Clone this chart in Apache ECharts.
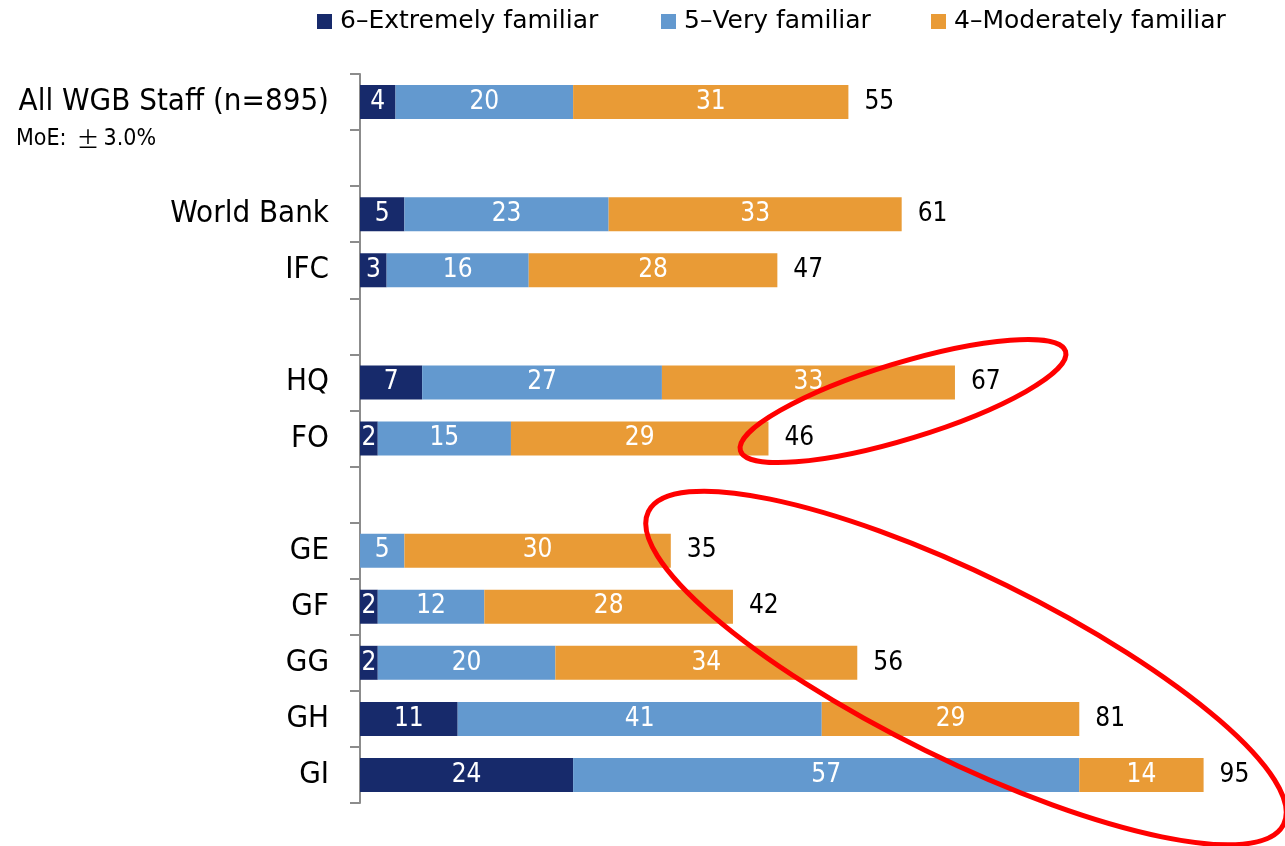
<!DOCTYPE html>
<html><head><meta charset="utf-8">
<script src="https://cdn.jsdelivr.net/npm/echarts@6/dist/echarts.min.js"></script>
<style>html,body{margin:0;padding:0;background:#fff}#c{width:1285px;height:846px}</style>
</head><body><div id="c"></div>
<script>
const categories = ['All WGB Staff (n=895)', '', 'World Bank', 'IFC', '', 'HQ', 'FO', '', 'GE', 'GF', 'GG', 'GH', 'GI'];
const extremely = [4, null, 5, 3, null, 7, 2, null, 0, 2, 2, 11, 24];
const very = [20, null, 23, 16, null, 27, 15, null, 5, 12, 20, 41, 57];
const moderately = [31, null, 33, 28, null, 33, 29, null, 30, 28, 34, 29, 14];
const totals = [55, null, 61, 47, null, 67, 46, null, 35, 42, 56, 81, 95];
const seriesNames = ['6\u2013Extremely familiar', '5\u2013Very familiar', '4\u2013Moderately familiar'];
const moeLabel = 'MoE:';
const moeSign = '\u00b1';
const moeValue = '3.0%';

const COND = '"DejaVu Sans Condensed", "DejaVu Sans", sans-serif';
const REG = '"DejaVu Sans", sans-serif';
const colors = ['#172a6b', '#6399cf', '#e99b36'];
const chart = echarts.init(document.getElementById('c'), null, {renderer: 'canvas'});

function seg(name, data, color) {
  return {
    name: name, type: 'bar', stack: 'total', data: data, barWidth: 34, barGap: '-100%',
    itemStyle: {color: color},
    label: {show: true, position: 'inside', color: '#fff', fontSize: 26, fontFamily: COND,
      formatter: p => (p.value ? p.value : '')},
    z: 3
  };
}

const legendLefts = [317, 661, 931];
chart.setOption({
  animation: false,
  backgroundColor: '#fff',
  color: colors,
  legend: seriesNames.map((n, i) => ({
    data: [n], left: legendLefts[i], top: 9, padding: 0, itemWidth: 15, itemHeight: 15, itemGap: 0,
    icon: 'rect', textStyle: {fontSize: 25, fontFamily: REG, color: '#000', padding: [0, 0, 0, 3]},
    selectedMode: false
  })),
  grid: {left: 360, top: 74, height: 729, right: 37, containLabel: false},
  xAxis: {type: 'value', min: 0, max: 100, show: false},
  yAxis: {
    type: 'category', data: categories, inverse: true,
    axisLine: {show: true, lineStyle: {color: '#8c8c8c', width: 2}},
    axisTick: {show: true, length: 10, lineStyle: {color: '#8c8c8c', width: 2}},
    axisLabel: {fontSize: 31, fontFamily: COND, color: '#000', margin: 31}
  },
  series: [
    seg(seriesNames[0], extremely, colors[0]),
    seg(seriesNames[1], very, colors[1]),
    seg(seriesNames[2], moderately, colors[2]),
    {
      name: 'Total', type: 'bar', data: totals, barWidth: 34, barGap: '-100%',
      itemStyle: {color: 'rgba(0,0,0,0)'}, z: 1,
      label: {show: true, position: 'right', distance: 16, color: '#000', fontSize: 26, fontFamily: COND}
    }
  ],
  graphic: [
    {type: 'text', left: 16, top: 128, z: 10,
      style: {
        text: '{a|' + moeLabel + '}{b|' + moeSign + '}{a|' + moeValue + '}',
        rich: {
          a: {fontSize: 23, fontFamily: COND, fill: '#000', color: '#000'},
          b: {fontSize: 23, fontFamily: '"Noto Sans CJK JP", sans-serif', fill: '#000', color: '#000', padding: [0, 4, 0, 10]}
        }
      }},
    {type: 'ellipse', x: 903, y: 401, rotation: 17 * Math.PI / 180, z: 100,
      shape: {cx: 0, cy: 0, rx: 170, ry: 38},
      style: {fill: 'none', stroke: '#ff0000', lineWidth: 5}},
    {type: 'ellipse', x: 966, y: 668, rotation: -26.2 * Math.PI / 180, z: 100,
      shape: {cx: 0, cy: 0, rx: 354, ry: 92},
      style: {fill: 'none', stroke: '#ff0000', lineWidth: 5}}
  ]
});
</script></body></html>
